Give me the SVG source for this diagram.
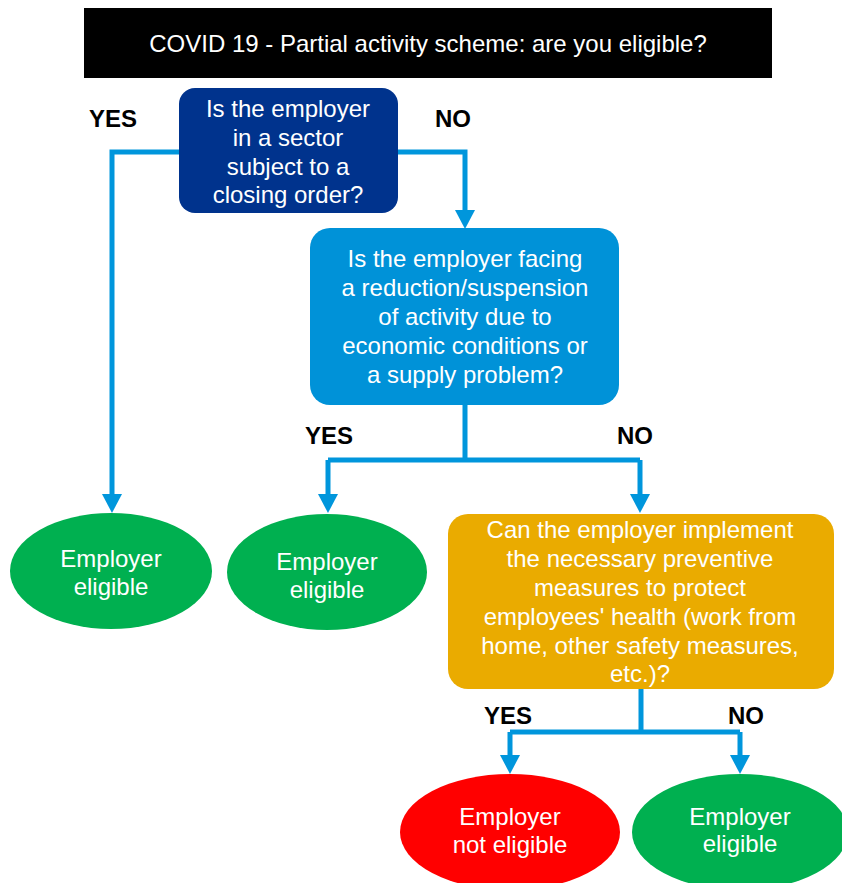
<svg xmlns="http://www.w3.org/2000/svg" width="842" height="883" viewBox="0 0 842 883">
<style>
.t{font-family:"Liberation Sans",Arial,sans-serif;font-size:24px;fill:#fff;text-anchor:middle}
.lbl{font-family:"Liberation Sans",Arial,sans-serif;font-size:24px;font-weight:bold;fill:#000;text-anchor:middle}
.c{fill:none;stroke:#0096DC;stroke-width:5;stroke-linejoin:miter}
</style>
<rect width="842" height="883" fill="#fff"/>
<g id="title">
<rect x="84" y="8" width="688" height="70" fill="#000"/>
<text class="t" x="428" y="52">COVID 19 - Partial activity scheme: are you eligible?</text>
</g>
<g id="connectors">
<path class="c" d="M180,152 H112 V497"/>
<path class="c" d="M397,152 H465 V213"/>
<path class="c" d="M465,404 V460 M328,460 H640 M328,460 V497 M640,460 V497"/>
<path class="c" d="M641,688 V732 M510,732 H740 M510,732 V758 M740,732 V758"/>
<g fill="#0096DC">
<path d="M102,494 L122,494 L112,513 Z"/>
<path d="M455,210 L475,210 L465,229 Z"/>
<path d="M318,494 L338,494 L328,513 Z"/>
<path d="M630,494 L650,494 L640,513 Z"/>
<path d="M500,755 L520,755 L510,774 Z"/>
<path d="M730,755 L750,755 L740,774 Z"/>
</g>
<text class="lbl" x="113" y="127">YES</text>
<text class="lbl" x="453" y="127">NO</text>
<text class="lbl" x="329" y="444">YES</text>
<text class="lbl" x="635" y="444">NO</text>
<text class="lbl" x="508" y="724">YES</text>
<text class="lbl" x="746" y="724">NO</text>
</g>
<g id="q1">
<rect x="179" y="88" width="219" height="125" rx="16" fill="#00338D"/>
<text class="t" x="288" y="117">Is the employer</text>
<text class="t" x="288" y="146">in a sector</text>
<text class="t" x="288" y="175">subject to a</text>
<text class="t" x="288" y="203">closing order?</text>
</g>
<g id="q2">
<rect x="310" y="228" width="309" height="177" rx="20" fill="#0092D8"/>
<text class="t" x="465" y="267">Is the employer facing</text>
<text class="t" x="465" y="296">a reduction/suspension</text>
<text class="t" x="465" y="325">of activity due to</text>
<text class="t" x="465" y="354">economic conditions or</text>
<text class="t" x="465" y="383">a supply problem?</text>
</g>
<g id="q3">
<rect x="448" y="514" width="386" height="175" rx="20" fill="#EAAB00"/>
<text class="t" x="640" y="538">Can the employer implement</text>
<text class="t" x="640" y="567">the necessary preventive</text>
<text class="t" x="640" y="596">measures to protect</text>
<text class="t" x="640" y="625">employees' health (work from</text>
<text class="t" x="640" y="654">home, other safety measures,</text>
<text class="t" x="640" y="682">etc.)?</text>
</g>
<g id="e1">
<ellipse cx="111" cy="571" rx="101" ry="58" fill="#00B050"/>
<text class="t" x="111" y="567">Employer</text>
<text class="t" x="111" y="595">eligible</text>
</g>
<g id="e2">
<ellipse cx="327" cy="572" rx="100" ry="58" fill="#00B050"/>
<text class="t" x="327" y="570">Employer</text>
<text class="t" x="327" y="598">eligible</text>
</g>
<g id="e3">
<ellipse cx="510" cy="832" rx="110" ry="58" fill="#FF0000"/>
<text class="t" x="510" y="825">Employer</text>
<text class="t" x="510" y="853">not eligible</text>
</g>
<g id="e4">
<ellipse cx="740" cy="832" rx="108" ry="58" fill="#00B050"/>
<text class="t" x="740" y="825">Employer</text>
<text class="t" x="740" y="852">eligible</text>
</g>
</svg>
